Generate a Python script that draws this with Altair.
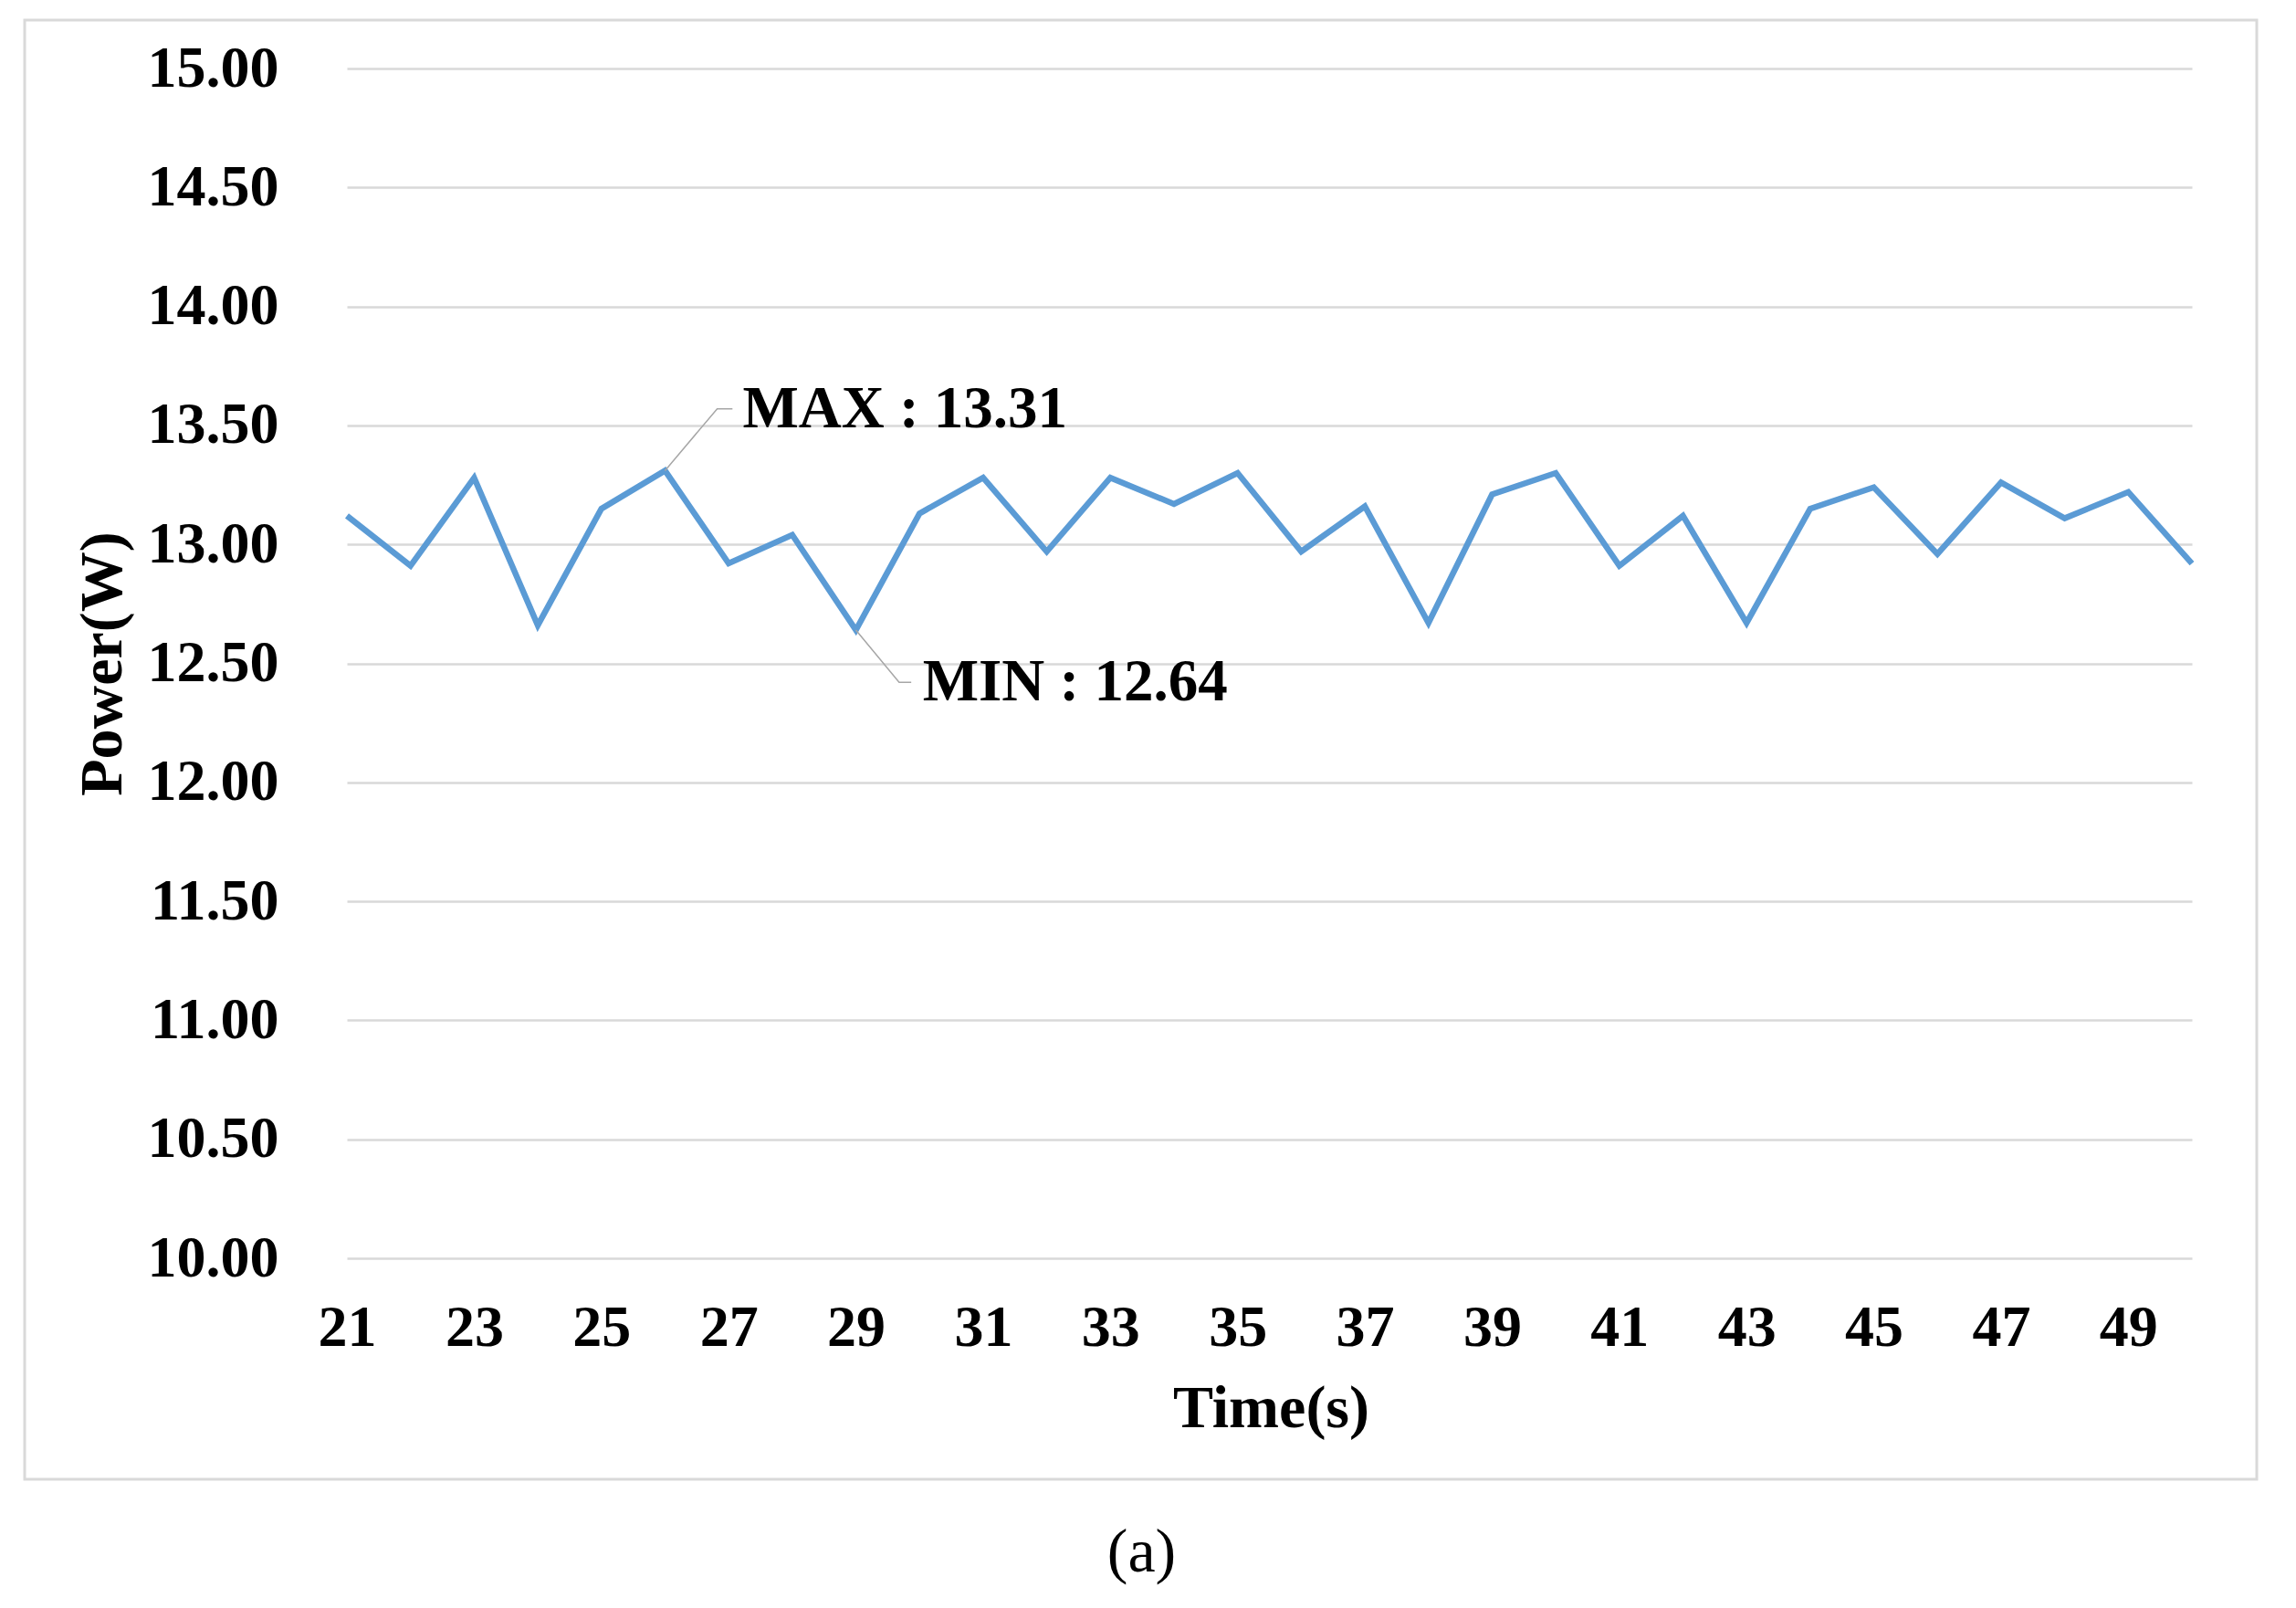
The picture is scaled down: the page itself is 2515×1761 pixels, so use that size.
import altair as alt
import pandas as pd

# ---- data ----
times = list(range(21, 51))
power = [13.12, 12.91, 13.28, 12.66, 13.15, 13.31, 12.92, 13.04, 12.64, 13.13,
         13.28, 12.97, 13.28, 13.17, 13.30, 12.97, 13.16, 12.67, 13.21, 13.30,
         12.91, 13.12, 12.67, 13.15, 13.24, 12.96, 13.26, 13.11, 13.22, 12.92]

y_ticks = [10.0, 10.5, 11.0, 11.5, 12.0, 12.5, 13.0, 13.5, 14.0, 14.5, 15.0]
x_ticks = list(range(21, 50, 2))

ann_labels = ["MAX : 13.31", "MIN : 12.64"]
ann_t = [27.22, 30.05]
ann_v = [13.57, 12.42]

# leader lines (group, order, t, v)
lead_group = ["max", "max", "max", "min", "min", "min"]
lead_order = [0, 1, 2, 0, 1, 2]
lead_t = [26.0, 26.82, 27.06, 29.0, 29.68, 29.87]
lead_v = [13.31, 13.57, 13.57, 12.64, 12.42, 12.42]

df = pd.DataFrame({"t": times, "p": power})
ann = pd.DataFrame({"t": ann_t, "v": ann_v, "label": ann_labels})
lead = pd.DataFrame({"g": lead_group, "o": lead_order, "t": lead_t, "v": lead_v})

FONT = "Liberation Serif"

xscale = alt.Scale(domain=[21, 50], nice=False, zero=False)
yscale = alt.Scale(domain=[10, 15], nice=False, zero=False)

line = alt.Chart(df).mark_line(color="#5B9BD5", strokeWidth=6.5).encode(
    x=alt.X("t:Q", scale=xscale, axis=alt.Axis(
        values=x_ticks, format="d", grid=False, domain=False, ticks=False,
        labelFont=FONT, labelFontWeight="bold", labelFontSize=64, labelColor="black",
        labelPadding=44, labelFlush=False, labelOverlap=False, labelBound=False,
        title="Time(s)", titleFont=FONT, titleFontWeight="bold", titleFontSize=66,
        titleColor="black", titleX=1012, titleY=164, titleAlign="center",
        titleBaseline="middle")),
    y=alt.Y("p:Q", scale=yscale, axis=alt.Axis(
        values=y_ticks, format=".2f", grid=True, gridColor="#D9D9D9", gridWidth=2.5,
        domain=False, ticks=False,
        labelFont=FONT, labelFontWeight="bold", labelFontSize=64, labelColor="black",
        labelPadding=75, labelOverlap=False, labelBound=False, labelFlush=False,
        title="Power(W)", titleFont=FONT, titleFontWeight="bold", titleFontSize=66,
        titleColor="black", titleX=-268, titleY=651.5, titleAngle=270,
        titleAlign="center", titleBaseline="middle")),
)

leaders = alt.Chart(lead).mark_line(color="#A6A6A6", strokeWidth=1.5).encode(
    x=alt.X("t:Q", scale=xscale),
    y=alt.Y("v:Q", scale=yscale),
    detail="g:N",
    order="o:Q",
)

labels = alt.Chart(ann).mark_text(
    align="left", baseline="middle", font=FONT, fontWeight="bold",
    fontSize=65, color="black").encode(
    x=alt.X("t:Q", scale=xscale),
    y=alt.Y("v:Q", scale=yscale),
    text="label:N",
)

border = alt.Chart(pd.DataFrame({"a": [0]})).mark_rect(
    fillOpacity=0, stroke="#D9D9D9", strokeWidth=3).encode(
    x=alt.value(-353), x2=alt.value(2092), y=alt.value(-53), y2=alt.value(1545))

chart = alt.layer(border, line, leaders, labels).properties(
    width=2021, height=1303,
    autosize=alt.AutoSizeParams(type="none"),
    padding={"left": 372, "top": 67, "right": 100, "bottom": 375},
    background="white",
    title=alt.TitleParams("(a)", orient="bottom", anchor="middle", dx=-140, offset=45,
                          font=FONT, fontSize=68, fontWeight="normal", color="black"),
).configure_view(strokeWidth=0)

chart.save("out.html", embed_options={"renderer": "svg", "actions": False})
